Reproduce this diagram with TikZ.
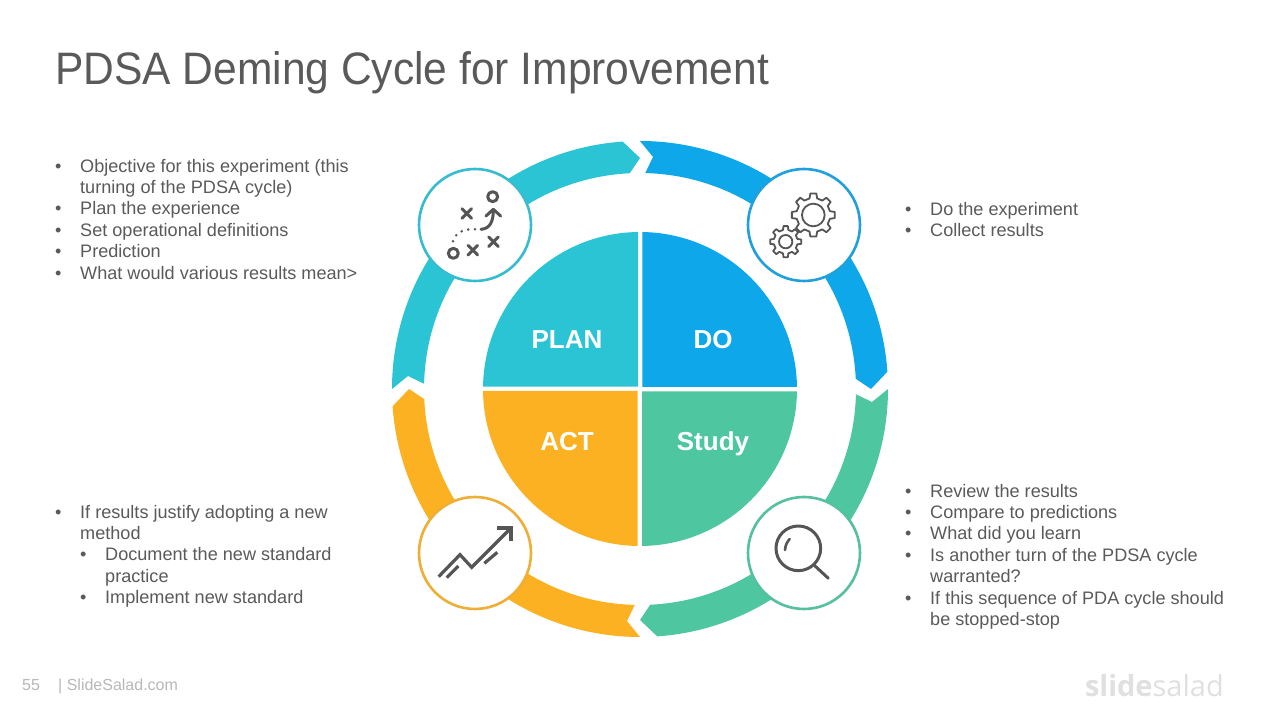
\documentclass[tikz,border=0pt]{standalone}
\usepackage{fontspec}
\setmainfont{Liberation Sans}
\newfontfamily\titlefont[FakeStretch=0.935]{Liberation Sans}
\newfontfamily\logofont{Open Sans}
\definecolor{cplan}{HTML}{2BC4D4}
\definecolor{cdo}{HTML}{0DA7EA}
\definecolor{cstudy}{HTML}{4EC7A0}
\definecolor{cact}{HTML}{FCB122}
\definecolor{rplan}{HTML}{36BCCF}
\definecolor{rdo}{HTML}{1F9FDB}
\definecolor{rstudy}{HTML}{54C09F}
\definecolor{ract}{HTML}{EFAE35}
\definecolor{ctext}{HTML}{5A5A5A}
\definecolor{cicon}{HTML}{555555}
\definecolor{cfoot}{HTML}{B8B8B8}
\definecolor{clogo}{HTML}{E0E0E0}
\newcommand{\blt}{\makebox[25pt][l]{•}\rule{0pt}{15pt}}
\newcommand{\cnt}{\hspace*{25pt}}
\newcommand{\ringseg}{(180:248) arc[start angle=180,end angle=94,radius=248] -- (0,231) -- (92.7:216) arc[start angle=92.7,end angle=178.6,radius=216] -- (-232,13) -- cycle}
\newcommand{\pieseg}{(-2,2.3) -- (179.16:157) arc[start angle=179.16,end angle=90.73,radius=157] -- cycle}
\newcommand{\gearpath}[2]{(-13:#1) \foreach \a in {0,45,...,315}{ -- (\a-13:#1) -- (\a-8:#2) -- (\a+8:#2) -- (\a+13:#1) arc[start angle=\a+13,end angle=\a+32,radius=#1]} -- cycle}
\tikzset{
  listtext/.style={anchor=north west,inner sep=0pt,align=left,text=ctext,font=\fontsize{18.1}{21.4}\selectfont},
  quadlabel/.style={anchor=base,text=white,inner sep=0pt,font=\bfseries\fontsize{26}{30}\selectfont},
  badge/.style={circle,fill=white,line width=2.6pt,minimum size=112pt,inner sep=0pt},
  iconline/.style={draw=cicon,line cap=round,line join=round},
  footer/.style={anchor=base west,inner sep=0pt,text=cfoot,font=\fontsize{16}{18}\selectfont}
}
\begin{document}
\begin{tikzpicture}[x=1pt,y=1pt]
\useasboundingbox (0,0) rectangle (1280,720);
\fill[white] (0,0) rectangle (1280,720);
\node[anchor=base west,inner sep=0pt,text=ctext,font=\titlefont\fontsize{45.5}{50}\selectfont] (title) at (55,635) {PDSA Deming Cycle for Improvement};
% ring and pie
\begin{scope}[shift={(640,331)}]
  \fill[cplan] \ringseg; \fill[cplan] \pieseg;
  \begin{scope}[rotate=-90] \fill[cdo] \ringseg; \fill[cdo] \pieseg; \end{scope}
  \begin{scope}[rotate=-180] \fill[cstudy] \ringseg; \fill[cstudy] \pieseg; \end{scope}
  \begin{scope}[rotate=-270] \fill[cact] \ringseg; \fill[cact] \pieseg; \end{scope}
\end{scope}
\node[quadlabel] (lplan) at (567,371.5) {PLAN};
\node[quadlabel] (ldo) at (713,371.5) {DO};
\node[quadlabel] (lact) at (567,269.5) {ACT};
\node[quadlabel] (lstudy) at (713,269.5) {Study};
% badges
\node[badge,draw=rplan] (bplan) at (475,495) {};
\node[badge,draw=rdo] (bdo) at (804,495) {};
\node[badge,draw=ract] (bact) at (475,167) {};
\node[badge,draw=rstudy] (bstudy) at (804,167) {};
% plan icon
\begin{scope}[shift={(380,590)},x=1/3*1pt,y=-1/3*1pt]
  \draw[iconline,line width=3pt] (338,200) circle[radius=15] (220,370) circle[radius=15];
  \draw[iconline,line width=3pt]
    (246,236)--(275,265) (275,236)--(246,265)
    (326,321)--(355,350) (355,321)--(326,350)
    (264,346)--(293,375) (293,346)--(264,375);
  \draw[iconline,line width=3pt] (303,298) .. controls (330,296) and (340,275) .. (340,240);
  \draw[iconline,line width=3pt] (318,258)--(340,238)--(362,258);
  \draw[iconline,line width=2.8pt,dash pattern=on 0pt off 6.8pt] (285,298) .. controls (250,297) and (228,305) .. (218,336);
\end{scope}
% gears
\begin{scope}[shift={(630,590)},x=1/3*1pt,y=-1/3*1pt]
  \begin{scope}[shift={(550,255)}]
    \draw[iconline,line width=1.8pt] \gearpath{51}{65};
    \draw[iconline,line width=1.8pt] (0,0) circle[radius=34];
  \end{scope}
  \begin{scope}[shift={(467,335)}]
    \draw[iconline,line width=1.8pt] \gearpath{36}{47};
    \draw[iconline,line width=1.8pt] (0,0) circle[radius=20];
  \end{scope}
\end{scope}
% trend icon
\begin{scope}[shift={(380,340)},x=1/3*1pt,y=-1/3*1pt]
  \draw[draw=cicon,line width=3.2pt,miter limit=10] (176,590) -- (240,524) -- (275,562) -- (392,445);
  \draw[draw=cicon,line width=4pt] (352,444) -- (393,444) -- (393,482);
  \draw[draw=cicon,line width=3.2pt] (200,593) -- (235,558) (313,550) -- (352,517);
\end{scope}
% magnifier
\begin{scope}[shift={(630,340)},x=1/3*1pt,y=-1/3*1pt]
  \draw[iconline,line width=3pt] (505,505) circle[radius=67];
  \draw[iconline,line width=3pt] (554,557) -- (595,595);
  \draw[iconline,line width=2.6pt] (479,477) .. controls (470,487) and (466,497) .. (465,510);
\end{scope}
% lists
\node[listtext] (tplan) at (55,563) {\blt Objective for this experiment (this\\
 \cnt turning of the PDSA cycle)\\
 \blt Plan the experience\\
 \blt Set operational definitions\\
 \blt Prediction\\
 \blt What would various results mean>};
\node[listtext] (tdo) at (905,520) {\blt Do the experiment\\
 \blt Collect results};
\node[listtext] (tstudy) at (905,238) {\blt Review the results\\
 \blt Compare to predictions\\
 \blt What did you learn\\
 \blt Is another turn of the PDSA cycle\\
 \cnt warranted?\\
 \blt If this sequence of PDA cycle should\\
 \cnt be stopped-stop};
\node[listtext] (tact) at (55,217) {\blt If results justify adopting a new\\
 \cnt method\\
 \cnt\blt Document the new standard\\
 \cnt\cnt practice\\
 \cnt\blt Implement new standard};
% footer
\node[footer] (fnum) at (22,29) {55};
\node[footer] (fsite) at (58,29) {| SlideSalad.com};
\node[anchor=base east,inner sep=0pt,text=clogo,font=\logofont\fontsize{29}{32}\selectfont] (logo) at (1224,23) {\textbf{slide}salad};
\end{tikzpicture}
\end{document}
